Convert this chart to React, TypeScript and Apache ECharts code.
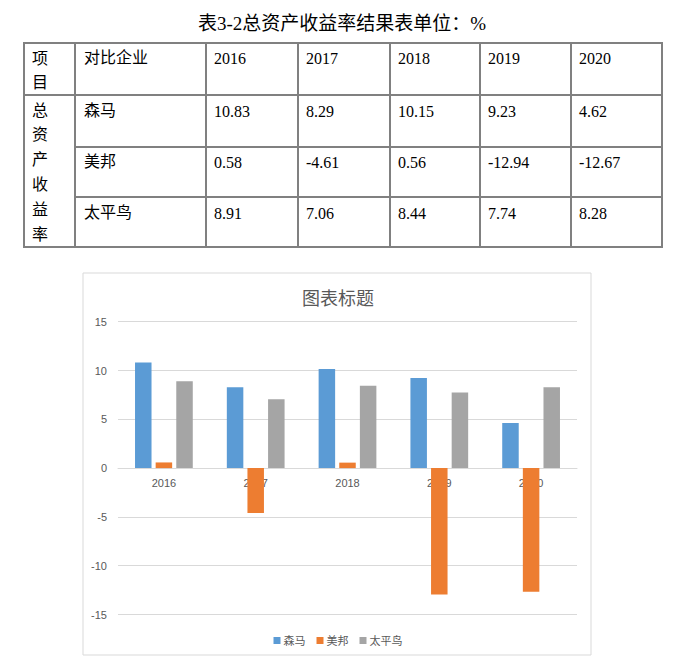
import React, { useEffect, useRef } from "react";
import * as echarts from "echarts";

const years = ["2016", "2017", "2018", "2019", "2020"];
const companies = ["森马", "美邦", "太平鸟"];
const semir = [10.83, 8.29, 10.15, 9.23, 4.62];
const mbanggo = [0.58, -4.61, 0.56, -12.94, -12.67];
const peacebird = [8.91, 7.06, 8.44, 7.74, 8.28];
const seriesValues = [semir, mbanggo, peacebird];
const colors = ["#5B9BD5", "#ED7D31", "#A5A5A5"];
const tableTitle = "表3-2总资产收益率结果表单位：%";
const headerCompany = "对比企业";
const sideLabel = ["总", "资", "产", "收", "益", "率"];
const chartTitle = "图表标题";
const yMin = -15;
const yMax = 15;
const yStep = 5;

// table geometry
const colX = [24, 75, 206, 298, 390, 480, 571, 662];
const rowY = [43, 95, 147, 197, 247];
const tableFont = "'Liberation Serif', 'Noto Sans CJK SC', serif";
const chartFont = "'Liberation Sans', 'Noto Sans CJK SC', sans-serif";

const gridTop = 321.7;
const gridBottom = 45.5;
const gridHeight = 660 - gridTop - gridBottom;
// distance from the grid bottom to the zero value line
const zeroOffset = (gridHeight * (0 - yMin)) / (yMax - yMin);

function buildTable(): any[] {
  const els: any[] = [];
  const lineStyle = { stroke: "#808080", lineWidth: 2 };
  els.push({
    type: "rect",
    shape: { x: colX[0], y: rowY[0], width: colX[colX.length - 1] - colX[0], height: rowY[rowY.length - 1] - rowY[0] },
    style: { fill: "none", ...lineStyle },
  });
  for (let i = 1; i < colX.length - 1; i++) {
    els.push({ type: "line", shape: { x1: colX[i], y1: rowY[0], x2: colX[i], y2: rowY[rowY.length - 1] }, style: lineStyle });
  }
  els.push({ type: "line", shape: { x1: colX[0], y1: rowY[1], x2: colX[colX.length - 1], y2: rowY[1] }, style: lineStyle });
  for (let r = 2; r < rowY.length - 1; r++) {
    els.push({ type: "line", shape: { x1: colX[1], y1: rowY[r], x2: colX[colX.length - 1], y2: rowY[r] }, style: lineStyle });
  }
  const txt = (text: string, x: number, y: number, extra: any = {}) => ({
    type: "text",
    x,
    y,
    style: { text, fill: "#000", font: `16px ${tableFont}`, verticalAlign: "middle", align: "left", ...extra },
  });
  els.push({
    type: "text",
    x: 342,
    y: 23,
    style: { text: tableTitle, fill: "#000", font: `19px ${tableFont}`, align: "center", verticalAlign: "middle" },
  });
  els.push(txt("项", 32, 58));
  els.push(txt("目", 32, 82));
  els.push(txt(headerCompany, 84, 57));
  years.forEach((y, i) => els.push(txt(y, colX[i + 2] + 8, 58)));
  sideLabel.forEach((c, i) => els.push(txt(c, 32, 110 + i * 24.8)));
  const rowCenters = [110, 161, 212];
  companies.forEach((c, r) => {
    els.push(txt(c, 84, rowCenters[r]));
    seriesValues[r].forEach((v, i) => els.push(txt(String(v), colX[i + 2] + 8, rowCenters[r] + 1)));
  });
  els.push({
    type: "rect",
    shape: { x: 83, y: 273, width: 508, height: 382 },
    style: { fill: "transparent", stroke: "#D9D9D9", lineWidth: 1 },
  });
  return els;
}

export default function App() {
  const ref = useRef<HTMLDivElement>(null);
  useEffect(() => {
    document.body.style.margin = "0";
    const chart = echarts.init(ref.current!, undefined, { renderer: "svg" });
    chart.setOption({
      animation: false,
      backgroundColor: "#fff",
      textStyle: { fontFamily: chartFont },
      title: {
        text: chartTitle,
        left: "center",
        top: 285,
        textStyle: { fontSize: 18, fontWeight: "normal", color: "#595959", fontFamily: chartFont },
      },
      legend: {
        data: companies,
        left: "center",
        top: 630,
        itemWidth: 7,
        itemHeight: 7,
        itemGap: 11,
        icon: "rect",
        textStyle: { fontSize: 11, color: "#595959", padding: [0, 0, 0, -2] },
      },
      grid: { left: 118, right: 99, top: gridTop, bottom: gridBottom, containLabel: false },
      xAxis: {
        type: "category",
        data: years,
        offset: -zeroOffset,
        axisLine: { onZero: false, lineStyle: { color: "#D9D9D9", width: 1 } },
        axisTick: { show: false },
        axisLabel: { color: "#595959", fontSize: 11, margin: 9 },
        splitLine: { show: false },
      },
      yAxis: {
        type: "value",
        min: yMin,
        max: yMax,
        interval: yStep,
        axisLine: { show: false },
        axisTick: { show: false },
        axisLabel: { color: "#595959", fontSize: 11, margin: 11 },
        splitLine: { lineStyle: { color: "#D9D9D9", width: 1 } },
      },
      series: companies.map((name, i) => ({
        name,
        type: "bar",
        data: seriesValues[i],
        barWidth: 16.5,
        barGap: "25%",
        itemStyle: { color: colors[i] },
      })),
      graphic: buildTable(),
    });
    return () => chart.dispose();
  }, []);
  return <div ref={ref} style={{ position: "absolute", left: 0, top: 0, width: 676, height: 660 }} />;
}
